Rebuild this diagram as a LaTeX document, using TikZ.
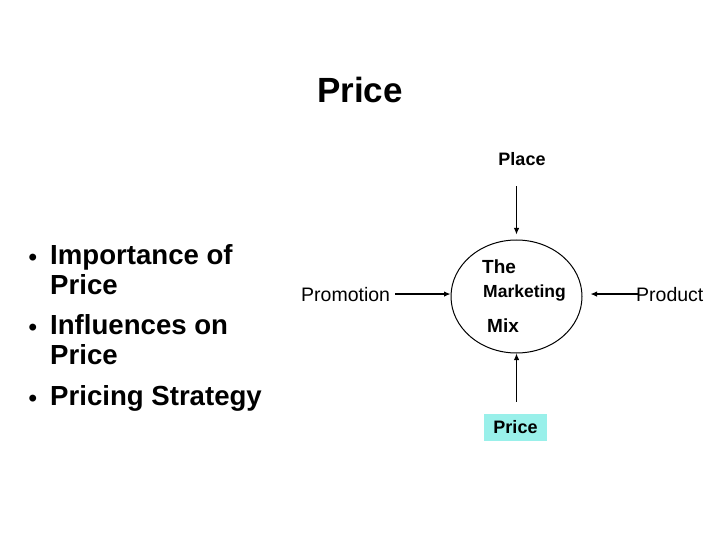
\documentclass[tikz,border=0pt]{standalone}
\usepackage{fontspec}
\setmainfont{Liberation Sans}
\usetikzlibrary{arrows.meta,positioning,shapes.geometric}
\definecolor{cbox}{HTML}{99F0EA}

\begin{document}
\begin{tikzpicture}[
  x=1pt, y=-1pt,
  big/.style={font=\fontsize{35}{40}\selectfont\bfseries, inner sep=0pt},
  item/.style={font=\fontsize{27.6}{30}\selectfont\bfseries, inner sep=0pt,
               align=left, anchor=base west},
  bul/.style={font=\fontsize{24}{26}\selectfont\bfseries, inner sep=0pt,
              anchor=base west},
  lbl/.style={font=\fontsize{18}{20}\selectfont\bfseries, inner sep=0pt},
  side/.style={font=\fontsize{19.5}{21}\selectfont, inner sep=0pt, anchor=base west},
  hub/.style={draw, line width=1pt, ellipse, minimum width=131pt,
              minimum height=113pt, inner sep=0pt},
  ar/.style={-{Latex[length=6.5pt,width=5.5pt]}, line width=1.1pt},
]
\useasboundingbox (0,0) rectangle (720,540);

%% ---------- title ----------
\node[big, anchor=base] (title) at (360,103) {Price};

%% ---------- bullet list ----------
\node[item] (t1) at (50,294) {Importance of\\Price};
\node[item] (t2) at (50,364) {Influences on\\Price};
\node[item] (t3) at (50,405) {Pricing Strategy};
\node[bul] (b1) at (28.5,265) {\textbullet};
\node[bul] (b2) at (28.5,335) {\textbullet};
\node[bul] (b3) at (28.5,406) {\textbullet};

%% ---------- marketing mix ----------
\node[hub] (mix) at (516.5,296.5) {};
\node[lbl, font=\fontsize{19}{21}\selectfont\bfseries, anchor=base west] (the) at (482,273) {The};
\node[lbl, font=\fontsize{17.5}{20}\selectfont\bfseries, anchor=base west] (mkt) at (483,297) {Marketing};
\node[lbl, font=\fontsize{19}{21}\selectfont\bfseries, anchor=base west] (mx) at (487,332) {Mix};

\node[lbl, anchor=base] (place) at (522,166) {Place};
\node[side] (promo) at (301,301) {Promotion};
\node[side] (prod) at (636,301) {Product};
\node[lbl, fill=cbox, minimum width=63pt, minimum height=27pt] (pbox)
  at (515.5,427.5) {Price};

\draw[ar] ([yshift=-20pt]place.south -| mix.north) -- ([yshift=5pt]mix.north);
\draw[ar] ([yshift=12pt]pbox.north -| mix.south) -- (mix.south);
\draw[ar] ([xshift=5pt]promo.east) -- (promo.east -| mix.west);
\draw[ar] ([xshift=3pt]prod.west) -- ([xshift=8pt]prod.west -| mix.east);

\end{tikzpicture}
\end{document}
